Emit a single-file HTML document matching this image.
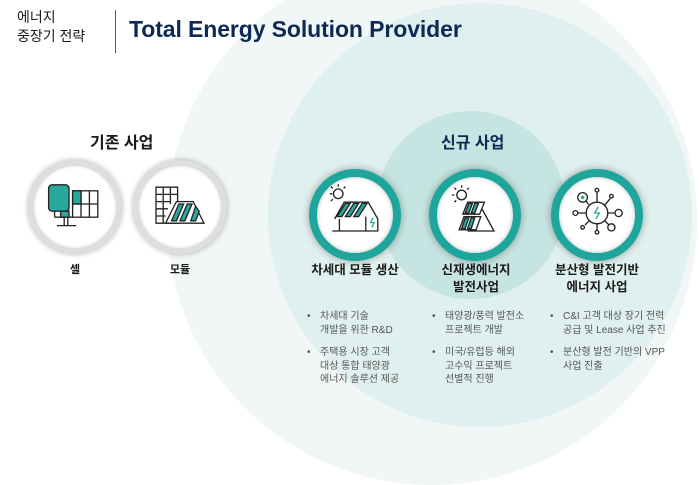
<!DOCTYPE html>
<html><head><meta charset="utf-8"><style>
body{margin:0;width:699px;height:426px;overflow:hidden;background:#fff;position:relative;font-family:"Liberation Sans","Noto Sans CJK KR",sans-serif}
.c{position:absolute;border-radius:50%}
.t{position:absolute;white-space:nowrap}
.lab{position:absolute;text-align:center;font-weight:bold;color:#1a1a1a;font-size:12.5px;line-height:17px;transform:translateX(-50%);white-space:nowrap}
.b{position:absolute;font-size:10px;line-height:13.5px;color:#555;white-space:nowrap}
.b i{position:absolute;left:-13px;font-style:normal}
.tc{position:absolute;width:76px;height:76px;border-radius:50%;background:#fff;border:8px solid #1ea69c;box-shadow:0 0 8px rgba(0,0,0,.35),inset 0 0 4px rgba(0,0,0,.25)}
.gc{position:absolute;width:82px;height:82px;border-radius:50%;background:#fff;border:6px solid #dedede;box-shadow:0 0 6px rgba(0,0,0,.3),inset 0 0 3px rgba(0,0,0,.15)}
svg{position:absolute}
</style></head><body>
<div class="c" style="left:167px;top:-45px;width:530px;height:530px;background:#f0f7f6"></div>
<div class="c" style="left:268px;top:3px;width:424px;height:424px;background:#e0f0ee"></div>
<div class="c" style="left:377px;top:111px;width:188px;height:188px;background:#c6e4e1"></div>

<div class="t" style="left:17px;top:8px;font-size:14px;line-height:19px;color:#1a1a1a">에너지<br>중장기 전략</div>
<div style="position:absolute;left:115px;top:10px;width:1px;height:43px;background:#555"></div>
<div class="t" style="left:129px;top:16px;font-size:23px;font-weight:bold;color:#0d2a55;letter-spacing:-0.1px">Total Energy Solution Provider</div>

<div class="t" style="left:90px;top:129px;font-size:16px;font-weight:bold;color:#1a1a1a">기존 사업</div>
<div class="t" style="left:441px;top:129px;font-size:16px;font-weight:bold;color:#0d2a55">신규 사업</div>

<div class="gc" style="left:28px;top:160px"></div>
<div class="gc" style="left:133px;top:160px"></div>
<svg style="left:45px;top:180px" width="60" height="60" viewBox="0 0 50 50" fill="none" stroke="#222" stroke-width="1.1">
<rect x="3" y="4" width="17" height="22" rx="3" fill="#2aa89d"/>
<rect x="23" y="9" width="21" height="22"/><line x1="30" y1="9" x2="30" y2="31"/><line x1="37" y1="9" x2="37" y2="31"/><line x1="23" y1="20" x2="44" y2="20"/>
<rect x="23" y="9" width="7" height="11" fill="#2aa89d"/>
<line x1="8" y1="26" x2="8" y2="31"/><line x1="8" y1="31" x2="23" y2="31"/><rect x="13" y="26" width="7" height="5" fill="#2aa89d"/>
<line x1="16" y1="31" x2="16" y2="38"/><line x1="19" y1="31" x2="19" y2="38"/><line x1="10" y1="38" x2="26" y2="38"/>
</svg>
<svg style="left:150px;top:180px" width="60" height="60" viewBox="0 0 50 50" fill="none" stroke="#222" stroke-width="1.1">
<path d="M5 6h18v30H5zM5 12h18M5 18h12M5 24h10M5 30h8M11 6v30M17 6v14"/>
<path d="M13 36L22 18h14l9 18z" fill="#fff"/>
<path d="M24 20l-6 14h4l6-14zM31 20l-6 14h4l6-14zM38 22l-4 12h4l3-8z" fill="#2aa89d"/>
</svg>
<div class="lab" style="left:75px;top:262px;font-size:11px">셀</div>
<div class="lab" style="left:180px;top:262px;font-size:11px">모듈</div>

<div class="tc" style="left:309px;top:169px"></div>
<div class="tc" style="left:429px;top:169px"></div>
<div class="tc" style="left:551px;top:169px"></div>
<svg style="left:325px;top:183px" width="60" height="60" viewBox="0 0 50 50" fill="none" stroke="#222" stroke-width="1.1">
<circle cx="11" cy="9" r="4"/><path d="M11 1v2M4 9h2M5 3l1.5 1.5M17 3l-1.5 1.5M5 15l1.5-1.5"/>
<path d="M8 30L16 16h20l8 14" /><path d="M10 28l7-11h4l-7 11zM17 28l7-11h4l-7 11zM24 28l7-11h4l-7 11z" fill="#2aa89d"/>
<path d="M12 30v10M34 28v12h10V30M6 40h38"/><path d="M40 29l-2 4h3l-2 4" stroke="#2aa89d"/>
</svg>
<svg style="left:446px;top:183px" width="60" height="60" viewBox="0 0 50 50" fill="none" stroke="#222" stroke-width="1.1">
<circle cx="13" cy="10" r="4"/><path d="M13 2v2M5 10h2M7 4l1.5 1.5M19 4l-1.5 1.5M7 16l1.5-1.5"/>
<path d="M28 18l12 22H18"/>
<path d="M18 16h14l-4 10H14z" fill="#fff"/><path d="M19 17h3l-3 8h-3zM24 17h3l-3 8h-3z" fill="#2aa89d"/>
<path d="M15 28h14l-4 11H11z" fill="#fff"/><path d="M16 29h3l-3 9h-3zM21 29h3l-3 9h-3z" fill="#2aa89d"/>
</svg>
<svg style="left:567px;top:183px" width="60" height="60" viewBox="0 0 50 50" fill="none" stroke="#222" stroke-width="1.1">
<circle cx="25" cy="25" r="9"/><path d="M26 20l-3 5h4l-3 5" stroke="#2aa89d"/>
<circle cx="13" cy="12" r="4"/><circle cx="13" cy="12" r="1.5" fill="#2aa89d" stroke="none"/>
<path d="M18 18l-2-3M25 16V8M31 19l5-6M34 25h6M31 31l4 4M25 34v6M19 31l-4 4M16 25H9"/>
<circle cx="25" cy="6" r="1.5"/><circle cx="37" cy="11" r="1.5"/><circle cx="43" cy="25" r="3"/><circle cx="37" cy="37" r="3"/><circle cx="25" cy="41" r="1.5"/><circle cx="13" cy="37" r="1.5"/><circle cx="7" cy="25" r="2"/>
</svg>

<div class="lab" style="left:355px;top:262px">차세대 모듈 생산</div>
<div class="lab" style="left:476px;top:262px">신재생에너지<br>발전사업</div>
<div class="lab" style="left:597px;top:262px">분산형 발전기반<br>에너지 사업</div>

<div class="b" style="left:320px;top:310px"><i>•</i>차세대 기술<br>개발을 위한 R&amp;D</div>
<div class="b" style="left:320px;top:346px"><i>•</i>주택용 시장 고객<br>대상 통합 태양광<br>에너지 솔루션 제공</div>
<div class="b" style="left:445px;top:310px"><i>•</i>태양광/풍력 발전소<br>프로젝트 개발</div>
<div class="b" style="left:445px;top:346px"><i>•</i>미국/유럽등 해외<br>고수익 프로젝트<br>선별적 진행</div>
<div class="b" style="left:563px;top:310px"><i>•</i>C&amp;I 고객 대상 장기 전력<br>공급 및 Lease 사업 추진</div>
<div class="b" style="left:563px;top:346px"><i>•</i>분산형 발전 기반의 VPP<br>사업 진출</div>
</body></html>
